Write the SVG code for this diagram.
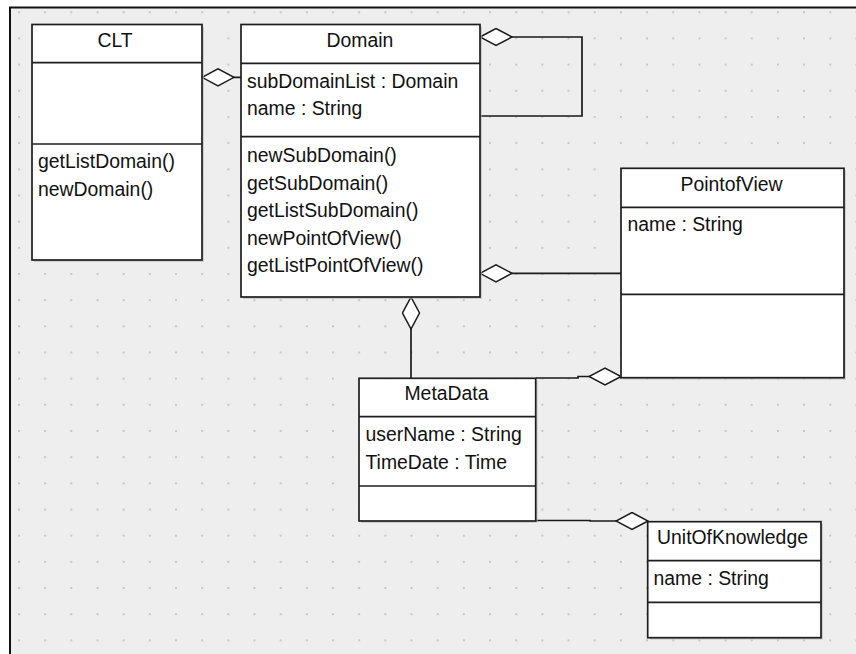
<svg xmlns="http://www.w3.org/2000/svg" width="856" height="654" viewBox="0 0 856 654">
<defs>
<pattern id="dots" patternUnits="userSpaceOnUse" x="18" y="11.3" width="26.17" height="26.17">
<rect x="0" y="0" width="2" height="2" fill="#c6c6c6"/>
</pattern>
<marker id="agg" markerUnits="userSpaceOnUse" viewBox="-1 -1 34 19" refX="0" refY="8.5" markerWidth="34" markerHeight="19" orient="auto">
<polygon points="0,8.5 16,0 32,8.5 16,17" fill="#ffffff" stroke="#1a1a1a" stroke-width="1.5"/>
</marker>
</defs>
<style>
.box{fill:#ffffff;stroke:#1e1e1e;stroke-width:1.7}
.shadow{fill:#b8b8b8;opacity:0.6}
.div{stroke:#1e1e1e;stroke-width:1.7}
.t{font-family:"Liberation Sans",Arial,sans-serif;font-size:19.4px;fill:#111111}
.c{text-anchor:middle}
.conn{fill:none;stroke:#1a1a1a;stroke-width:1.7;marker-start:url(#agg)}
</style>
<rect x="0" y="0" width="856" height="654" fill="#ffffff"/>
<rect x="10" y="7.5" width="870" height="680" fill="#eeeeee" stroke="#111111" stroke-width="2"/>
<rect x="11" y="8.5" width="868" height="678" fill="url(#dots)"/>

<g id="connectors">
<path class="conn" d="M202,77.3 H241"/>
<path class="conn" d="M480,37 H582 V116 H480"/>
<path class="conn" d="M480,273.3 H621"/>
<path class="conn" d="M411,297 V378"/>
<path class="conn" d="M621,376.5 H578 V378 H536"/>
<path class="conn" d="M648,521 H590 V520.5 H535"/>
</g>

<g id="CLT">
<rect class="shadow" x="34" y="26.5" width="170" height="235.5"/>
<rect class="box" x="32" y="24.5" width="170" height="235.5"/>
<line class="div" x1="32" y1="62.7" x2="202" y2="62.7"/>
<line class="div" x1="32" y1="144" x2="202" y2="144"/>
<text class="t c" x="115" y="47">CLT</text>
<text class="t" x="38" y="168">getListDomain()</text>
<text class="t" x="38" y="195.5">newDomain()</text>
</g>

<g id="Domain">
<rect class="shadow" x="243" y="26.5" width="239" height="272.5"/>
<rect class="box" x="241" y="24.5" width="239" height="272.5"/>
<line class="div" x1="241" y1="63.3" x2="480" y2="63.3"/>
<line class="div" x1="241" y1="136.7" x2="480" y2="136.7"/>
<text class="t c" x="360" y="47">Domain</text>
<text class="t" x="247" y="87.5">subDomainList : Domain</text>
<text class="t" x="247" y="115">name : String</text>
<text class="t" x="247" y="162">newSubDomain()</text>
<text class="t" x="247" y="189.5">getSubDomain()</text>
<text class="t" x="247" y="217">getListSubDomain()</text>
<text class="t" x="247" y="244.5">newPointOfView()</text>
<text class="t" x="247" y="272">getListPointOfView()</text>
</g>

<g id="PointofView">
<rect class="shadow" x="623" y="170.3" width="223" height="209.4"/>
<rect class="box" x="621" y="168.3" width="223" height="209.4"/>
<line class="div" x1="621" y1="207.3" x2="844" y2="207.3"/>
<line class="div" x1="621" y1="294.3" x2="844" y2="294.3"/>
<text class="t c" x="731.5" y="191">PointofView</text>
<text class="t" x="627.5" y="231">name : String</text>
</g>

<g id="MetaData">
<rect class="shadow" x="361" y="380.3" width="176.7" height="142.7"/>
<rect class="box" x="359" y="378.3" width="176.7" height="142.7"/>
<line class="div" x1="359" y1="416.7" x2="535.7" y2="416.7"/>
<line class="div" x1="359" y1="486" x2="535.7" y2="486"/>
<text class="t c" x="446.5" y="399.5">MetaData</text>
<text class="t" x="365.5" y="441">userName : String</text>
<text class="t" x="365.5" y="468.5">TimeDate : Time</text>
</g>

<g id="UnitOfKnowledge">
<rect class="shadow" x="649.7" y="523.7" width="173.3" height="116"/>
<rect class="box" x="647.7" y="521.7" width="173.3" height="116"/>
<line class="div" x1="647.7" y1="560.7" x2="821" y2="560.7"/>
<line class="div" x1="647.7" y1="602.3" x2="821" y2="602.3"/>
<text class="t c" x="732.5" y="543.5">UnitOfKnowledge</text>
<text class="t" x="653.5" y="584.5">name : String</text>
</g>
</svg>
